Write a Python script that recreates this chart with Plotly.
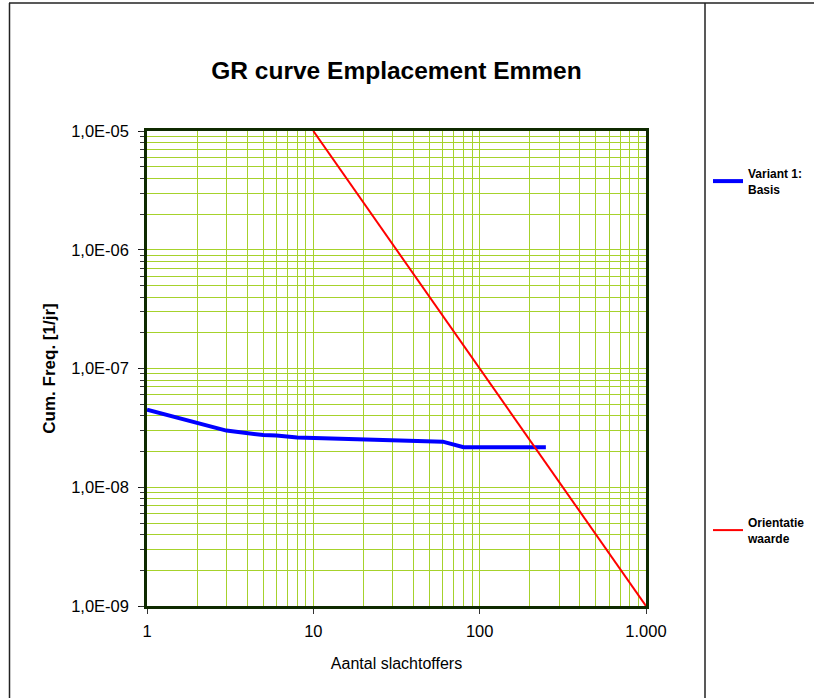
import plotly.graph_objects as go

# Data
variant_x = [1, 2, 3, 5, 6, 8, 12, 25, 30, 40, 60, 80, 250]
variant_y = [4.5e-8, 3.5e-8, 3.0e-8, 2.75e-8, 2.73e-8, 2.62e-8, 2.58e-8,
             2.48e-8, 2.47e-8, 2.42e-8, 2.42e-8, 2.17e-8, 2.17e-8]
orient_x = [10, 1000]
orient_y = [1e-5, 1e-9]

x_major = [1, 10, 100, 1000]
x_major_text = ["1", "10", "100", "1.000"]
y_major = [1e-9, 1e-8, 1e-7, 1e-6, 1e-5]
y_major_text = ["1,0E-09", "1,0E-08", "1,0E-07", "1,0E-06", "1,0E-05"]
minor_mult = [2, 3, 4, 5, 6, 7, 8, 9]

FONT = "Liberation Sans, Arial, sans-serif"

L, R, T, B = 147, 646, 131, 606
W, H = 814, 698

# tick positions: decades labelled, 2..9 multiples unlabelled (grid only)
x_tickvals, x_ticktext = [], []
for v, t in zip(x_major, x_major_text):
    x_tickvals.append(v); x_ticktext.append(t)
for d in x_major[:-1]:
    for m in minor_mult:
        x_tickvals.append(m * d); x_ticktext.append("")
y_tickvals, y_ticktext = [], []
for v, t in zip(y_major, y_major_text):
    y_tickvals.append(v); y_ticktext.append(t)
for d in y_major[:-1]:
    for m in minor_mult:
        y_tickvals.append(m * d); y_ticktext.append("")

fig = go.Figure()
fig.add_trace(go.Scatter(x=variant_x, y=variant_y, mode="lines",
                         name="Variant 1:<br>Basis",
                         line=dict(color="#0000ff", width=4),
                         legend="legend", showlegend=True))
fig.add_trace(go.Scatter(x=orient_x, y=orient_y, mode="lines",
                         name="Orientatie<br>waarde",
                         line=dict(color="#ff0000", width=2),
                         legend="legend2", showlegend=True))

grid_col = "#a6d22c"
axis_col = "#0f2a00"

fig.update_layout(
    width=W, height=H,
    showlegend=True,
    margin=dict(l=L, r=W - R, t=T, b=H - B, autoexpand=False),
    paper_bgcolor="white", plot_bgcolor="white",
    font=dict(family=FONT, color="black", size=12),
    title=dict(text="<b>GR curve Emplacement Emmen</b>", x=(L + R) / 2 / W, xanchor="center",
               y=1 - 70 / H, yanchor="middle",
               font=dict(size=24.5, family=FONT, color="black")),
    xaxis=dict(type="log", range=[0, 3], tickmode="array", tickvals=x_tickvals, ticktext=x_ticktext,
               showgrid=True, gridcolor=grid_col, gridwidth=1,
               showline=True, linecolor=axis_col, linewidth=2.5, mirror=True,
               ticks="", ticklabelstandoff=8,
               tickfont=dict(size=16.5, family=FONT),
               minor=dict(tickmode="array", tickvals=x_major, ticks="outside", ticklen=5,
                          tickcolor="#333333", tickwidth=1, showgrid=False),
               title=dict(text="Aantal slachtoffers", font=dict(size=16, family=FONT), standoff=20),
               zeroline=False),
    yaxis=dict(type="log", range=[-9, -5], tickmode="array", tickvals=y_tickvals, ticktext=y_ticktext,
               showgrid=True, gridcolor=grid_col, gridwidth=1,
               showline=True, linecolor=axis_col, linewidth=2.5, mirror=True,
               ticks="outside", ticklen=4, tickcolor="#333333", tickwidth=1,
               ticklabelstandoff=8,
               tickfont=dict(size=16.5, family=FONT),
               minor=dict(tickmode="array", tickvals=y_major, ticks="outside", ticklen=6,
                          tickcolor="#111111", tickwidth=1, showgrid=False),
               title=dict(text="<b>Cum. Freq. [1/jr]</b>", font=dict(size=17, family=FONT), standoff=12),
               zeroline=False),
    legend=dict(xref="paper", x=(708 - L) / (R - L), xanchor="left",
                y=1 - (159 - T) / (B - T), yanchor="top",
                bgcolor="rgba(0,0,0,0)", borderwidth=0,
                font=dict(size=12, family=FONT, color="black", weight="bold"),
                itemwidth=30),
    legend2=dict(xref="paper", x=(708 - L) / (R - L), xanchor="left",
                 y=1 - (508 - T) / (B - T), yanchor="top",
                 bgcolor="rgba(0,0,0,0)", borderwidth=0,
                 font=dict(size=12, family=FONT, color="black", weight="bold"),
                 itemwidth=30),
)

# Outer frame lines (chart border and legend divider)
def px2x(px):
    return (px - L) / (R - L)
def px2y(py):
    return 1 - (py - T) / (B - T)

frame_col = "#222222"
fig.add_shape(type="line", xref="paper", yref="paper",
              x0=px2x(9), x1=px2x(W), y0=px2y(3), y1=px2y(3),
              line=dict(color=frame_col, width=1.5))
fig.add_shape(type="line", xref="paper", yref="paper",
              x0=px2x(9.5), x1=px2x(9.5), y0=px2y(3), y1=px2y(H),
              line=dict(color=frame_col, width=1.5))
fig.add_shape(type="line", xref="paper", yref="paper",
              x0=px2x(705), x1=px2x(705), y0=px2y(3), y1=px2y(H),
              line=dict(color=frame_col, width=1.5))

fig.write_html("out.html", config={"displayModeBar": False},
               post_script="document.body.style.margin='0px';")
